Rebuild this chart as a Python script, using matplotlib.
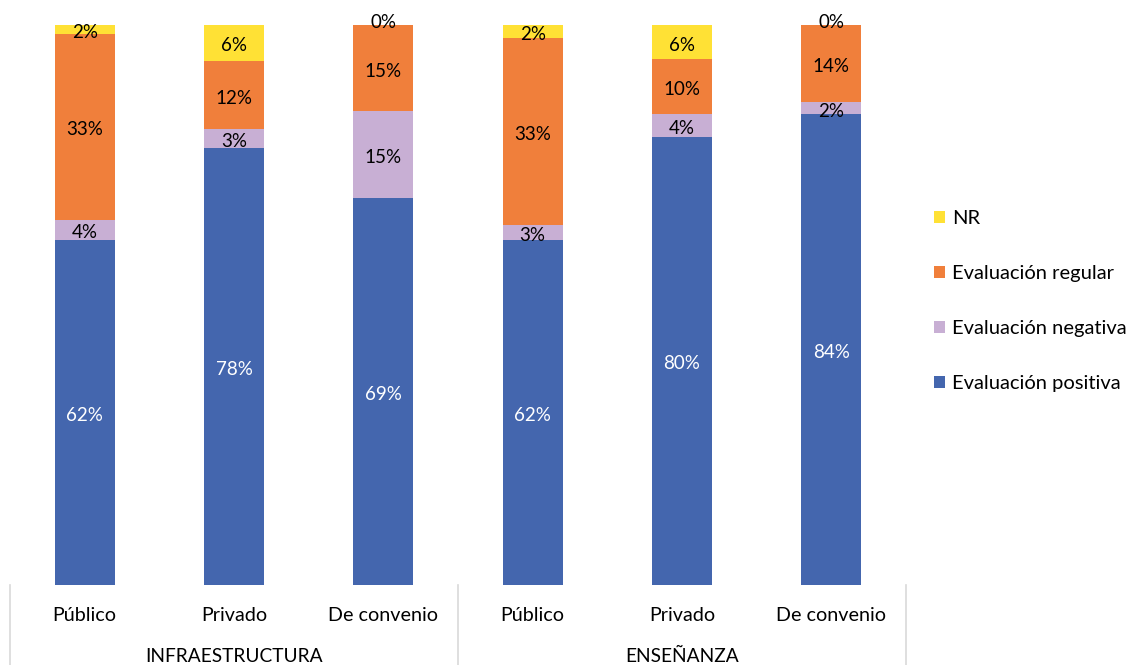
import matplotlib
matplotlib.use("Agg")
import matplotlib.pyplot as plt
import matplotlib.transforms as mtransforms
from matplotlib.patches import Patch
import numpy as np

plt.rcParams['font.family'] = ['Lato', 'DejaVu Sans']

groups = ["INFRAESTRUCTURA", "ENSEÑANZA"]
categories = ["Público", "Privado", "De convenio"]
series_names = ["Evaluación positiva", "Evaluación negativa", "Evaluación regular", "NR"]
colors = ["#4466AE", "#C8AFD4", "#F07F3B", "#FFE135"]

positiva = [61.6, 78.0, 69.1, 61.6, 80.0, 84.1]
negativa = [3.6, 3.4, 15.4, 2.7, 4.1, 2.1]
regular = [33.2, 12.2, 15.4, 33.3, 9.8, 13.8]
nr = [1.6, 6.4, 0.0, 2.4, 6.1, 0.0]

data = np.array([positiva, negativa, regular, nr])
shares = data / data.sum(axis=0) * 100

fig = plt.figure(figsize=(11.35, 6.65), dpi=100)
ax = fig.add_axes([10/1135, 80/665, 896/1135, 560/665])

down = mtransforms.offset_copy(ax.transData, fig=fig, x=0, y=-3, units="dots")

x = np.arange(len(positiva))
bottom = np.zeros(len(x))
fs = 13.5
for i, (name, col) in enumerate(zip(series_names, colors)):
    ax.bar(x, shares[i], bottom=bottom, width=0.4, color=col, label=name, linewidth=0)
    for j in range(len(x)):
        yc = bottom[j] + shares[i][j] / 2
        if shares[i][j] == 0:
            yc = bottom[j] + 1.0
        ax.text(x[j], yc, f"{data[i][j]:.0f}%", ha="center", va="center",
                fontsize=fs, color="white" if i == 0 else "black", transform=down)
    bottom += shares[i]

ax.set_xlim(-0.5, len(x) - 0.5)
ax.set_ylim(0, 100)
ax.set_yticks([])
ax.set_xticks([])
for s in ax.spines.values():
    s.set_visible(False)

# category labels
ncat = len(categories)
for j in range(len(x)):
    ax.text(x[j], -0.055, categories[j % ncat], transform=ax.get_xaxis_transform(),
            ha="center", va="center", fontsize=14.2)
for g, name in enumerate(groups):
    ax.text(g * ncat + (ncat - 1) / 2, -0.128, name, transform=ax.get_xaxis_transform(),
            ha="center", va="center", fontsize=13.8)
for b in [-0.5, 2.5, 5.5]:
    ax.plot([b, b], [0, -0.145], transform=ax.get_xaxis_transform(),
            color="#D9D9D9", lw=1.2, clip_on=False)

handles = [Patch(facecolor=c, edgecolor="none") for c in colors][::-1]
fig.legend(handles, series_names[::-1], loc="center left",
           bbox_to_anchor=(916/1135, 1 - 301/665), frameon=False,
           fontsize=14.5, handlelength=0.55, handleheight=0.55, handletextpad=0.35,
           labelspacing=1.88)

fig.savefig("out.png", dpi=100)
